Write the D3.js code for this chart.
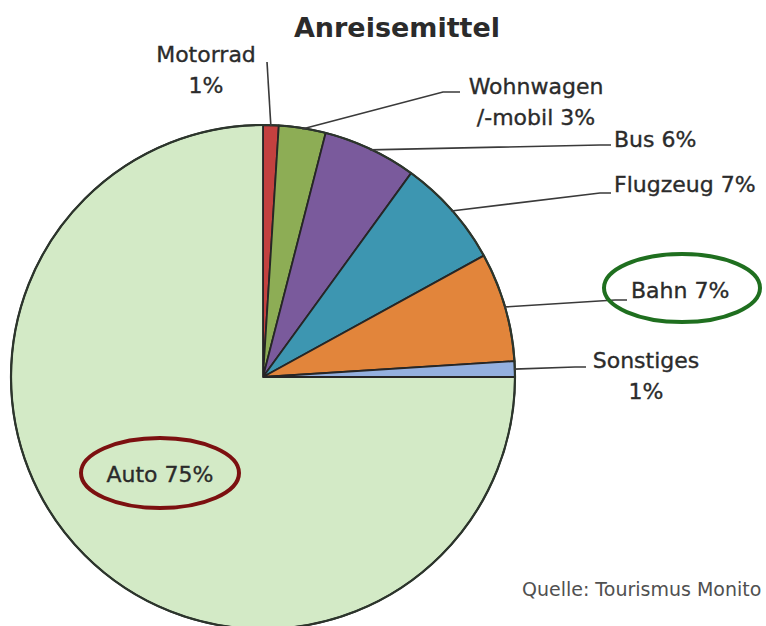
<!DOCTYPE html>
<html>
<head>
<meta charset="utf-8">
<script src="https://cdn.jsdelivr.net/npm/d3@7"></script>
<style>
  body { margin: 0; background: #fff; }
  text { font-family: "DejaVu Sans", Verdana, sans-serif; fill: #2b2b2b; }
  text.label { stroke: #2b2b2b; stroke-width: 0.35px; }
</style>
</head>
<body>
<div class="canvas"></div>
<script>
// Data
const categories = ["Motorrad", "Wohnwagen", "Bus", "Flugzeug", "Bahn", "Sonstiges", "Auto"];
const values = [1, 3, 6, 7, 7, 1, 75];
const labelLines = [
  ["Motorrad", "1%"],
  ["Wohnwagen", "/-mobil 3%"],
  ["Bus 6%"],
  ["Flugzeug 7%"],
  ["Bahn 7%"],
  ["Sonstiges", "1%"],
  ["Auto 75%"]
];
const colors = ["#c3413f", "#8dad55", "#7a5a9c", "#3d96b1", "#e2853b", "#94b0df", "#d3eac6"];

// Setting constants
const wWidth = 766;
const wHeight = 626;
const cx = 263, cy = 377, radius = 252;

// Label layout: text anchor point, elbow and end of leader line
const labelLayout = {
  Motorrad:  { x: 206, y: 62, anchor: "middle", elbow: [267, 62], end: [267, 62] },
  Wohnwagen: { x: 536, y: 94, anchor: "middle", elbow: [443, 92], end: [460, 92] },
  Bus:       { x: 614, y: 147, anchor: "start", elbow: [600, 145], end: [611, 145] },
  Flugzeug:  { x: 614, y: 192, anchor: "start", elbow: [600, 193], end: [611, 193] },
  Bahn:      { x: 631, y: 298, anchor: "start", elbow: [615, 300], end: [627, 300] },
  Sonstiges: { x: 646, y: 368, anchor: "middle", elbow: [575, 367], end: [586, 367] },
  Auto:      { x: 160, y: 482, anchor: "middle" }
};

const svg = d3.select('.canvas')
    .append('svg')
    .attr("width", wWidth)
    .attr("height", wHeight);

const data = categories.map((c, i) => ({ name: c, value: values[i], color: colors[i], lines: labelLines[i] }));

const pie = d3.pie()
    .value(d => d.value)
    .sort(null);

const arc = d3.arc()
    .innerRadius(0)
    .outerRadius(radius);

const arcs = pie(data);

const graph = svg.append('g')
    .attr('transform', `translate(${cx}, ${cy})`);

graph.selectAll('path')
    .data(arcs)
    .enter()
    .append('path')
    .attr('d', arc)
    .attr('fill', d => d.data.color)
    .attr('stroke', '#262626')
    .attr('stroke-width', 1.8)
    .attr('stroke-linejoin', 'round');

// outer rim a bit darker
graph.append('circle')
    .attr('r', radius)
    .attr('fill', 'none')
    .attr('stroke', '#2c352c')
    .attr('stroke-width', 2.2);

// Leader lines from the middle of each slice's outer edge
const leaders = arcs.filter(d => labelLayout[d.data.name].elbow);
svg.selectAll('polyline.leader')
    .data(leaders)
    .enter()
    .append('polyline')
    .attr('class', 'leader')
    .attr('fill', 'none')
    .attr('stroke', '#3a3a3a')
    .attr('stroke-width', 1.6)
    .attr('points', d => {
      const a = (d.startAngle + d.endAngle) / 2;
      const p0 = [cx + Math.sin(a) * (radius - 1), cy - Math.cos(a) * (radius - 1)];
      const L = labelLayout[d.data.name];
      return [p0, L.elbow, L.end].map(p => p.join(',')).join(' ');
    });

// Labels
const labels = svg.selectAll('text.label')
    .data(arcs)
    .enter()
    .append('text')
    .attr('class', 'label')
    .attr('text-anchor', d => labelLayout[d.data.name].anchor)
    .attr('font-size', 22)
    .attr('x', d => labelLayout[d.data.name].x)
    .attr('y', d => labelLayout[d.data.name].y);

labels.selectAll('tspan')
    .data(d => d.data.lines.map(t => ({ t, x: labelLayout[d.data.name].x })))
    .enter()
    .append('tspan')
    .attr('x', d => d.x)
    .attr('dy', (d, i) => i === 0 ? 0 : 31)
    .text(d => d.t);

// Highlight ellipses
svg.append('ellipse')
    .attr('cx', 682).attr('cy', 288)
    .attr('rx', 78).attr('ry', 34)
    .attr('fill', 'none')
    .attr('stroke', '#1f6f1f')
    .attr('stroke-width', 4);

svg.append('ellipse')
    .attr('cx', 160).attr('cy', 473)
    .attr('rx', 79).attr('ry', 35)
    .attr('fill', 'none')
    .attr('stroke', '#7c1010')
    .attr('stroke-width', 4);

// Title
svg.append('text')
    .attr('x', 397)
    .attr('y', 37)
    .attr('text-anchor', 'middle')
    .attr('font-size', 27)
    .attr('font-weight', 'bold')
    .text('Anreisemittel');

// Source
svg.append('text')
    .attr('x', 522)
    .attr('y', 596)
    .attr('font-size', 19)
    .style('fill', '#505050')
    .text('Quelle: Tourismus Monito');
</script>
</body>
</html>
